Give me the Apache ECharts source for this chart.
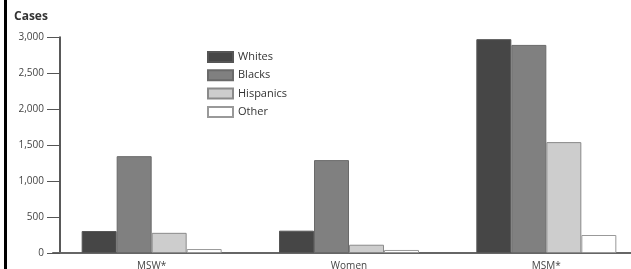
<!DOCTYPE html>
<html>
<head>
<meta charset="utf-8">
<script src="https://cdn.jsdelivr.net/npm/echarts@6/dist/echarts.min.js"></script>
<style>
  html, body { margin: 0; padding: 0; background: #fff; }
  #chart { width: 631px; height: 269px; }
</style>
</head>
<body>
<div id="chart"></div>
<script>
// data
const categories = ['MSW*', 'Women', 'MSM*'];
const whites = [305, 310, 2970];
const blacks = [1345, 1290, 2890];
const hispanics = [280, 115, 1540];
const other = [55, 42, 250];
const yTicks = [0, 500, 1000, 1500, 2000, 2500, 3000];

const font = '"Open Sans", "Noto Sans", sans-serif';

function bar(name, data, fill, border) {
  return {
    name: name,
    type: 'bar',
    data: data,
    barWidth: 35,
    barGap: '0%',
    itemStyle: { color: fill, borderColor: border, borderWidth: 1 },
    emphasis: { disabled: true }
  };
}

const chart = echarts.init(document.getElementById('chart'));
chart.setOption({
  animation: false,
  title: {
    text: 'Cases',
    left: 14,
    top: 11,
    padding: 0,
    textStyle: { fontFamily: font, fontSize: 12, fontWeight: 'bold', color: '#333' }
  },
  legend: {
    orient: 'vertical',
    left: 207,
    top: 51,
    padding: 0,
    itemWidth: 25,
    itemHeight: 10,
    itemGap: 6.3,
    icon: 'rect',
    textStyle: { fontFamily: font, fontSize: 11, color: '#333' },
    data: ['Whites', 'Blacks', 'Hispanics', 'Other']
  },
  grid: { left: 53, right: -14, top: 37, bottom: 16, containLabel: false, outerBoundsMode: 'none' },
  xAxis: {
    type: 'category',
    data: categories,
    axisLine: { lineStyle: { color: '#666', width: 2 } },
    axisTick: { show: false },
    axisLabel: { fontFamily: font, fontSize: 10, color: '#444', margin: 8 }
  },
  yAxis: {
    type: 'value',
    min: yTicks[0],
    max: yTicks[yTicks.length - 1],
    interval: 500,
    offset: -7,
    splitLine: { show: false },
    axisLine: { show: true, lineStyle: { color: '#222', width: 1.5 } },
    axisTick: { show: true, length: 13, lineStyle: { color: '#555' } },
    axisLabel: {
      fontFamily: font, fontSize: 10, color: '#444', margin: 16,
      formatter: v => v.toLocaleString('en-US')
    }
  },
  graphic: [
    { type: 'rect', shape: { x: 4, y: 0, width: 3, height: 269 }, style: { fill: '#000' } }
  ],
  series: [
    bar('Whites', whites, '#464646', '#555'),
    bar('Blacks', blacks, '#808080', '#6a6a6a'),
    bar('Hispanics', hispanics, '#cdcdcd', '#8a8a8a'),
    bar('Other', other, '#ffffff', '#999')
  ]
});
</script>
</body>
</html>
